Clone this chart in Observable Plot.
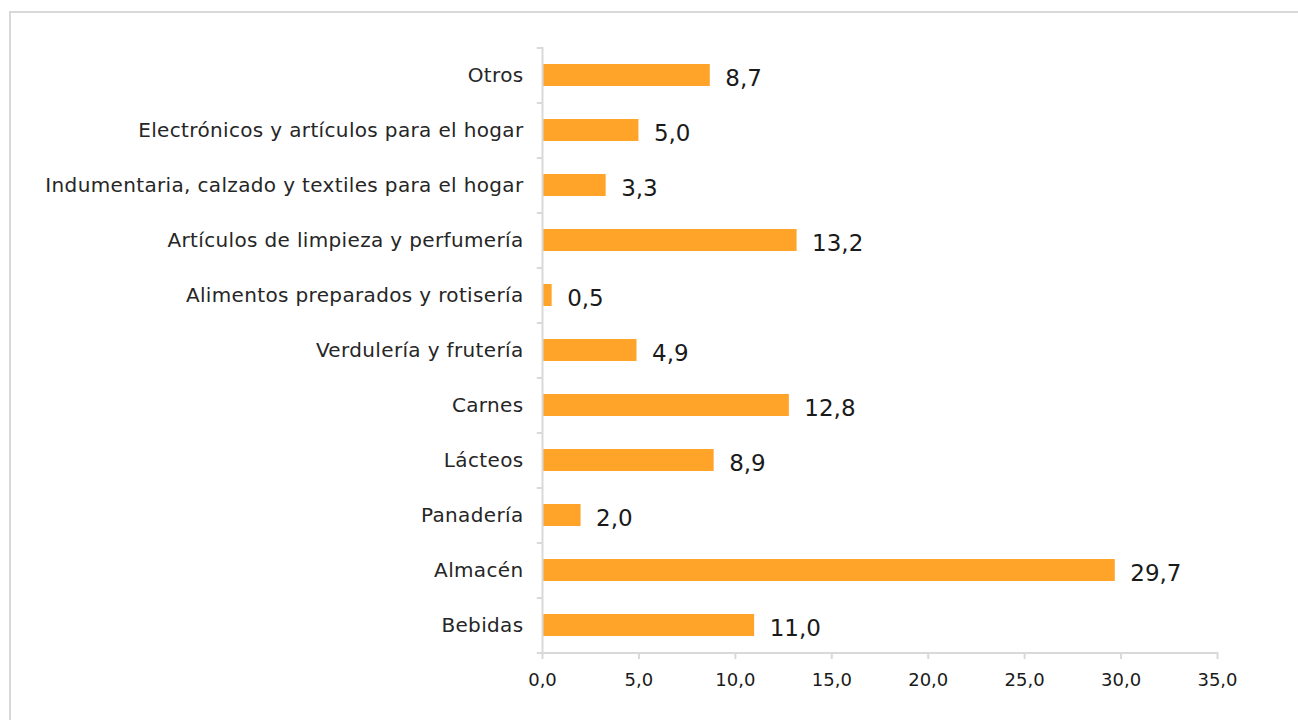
<!DOCTYPE html>
<html>
<head>
<meta charset="utf-8">
<script src="https://cdn.jsdelivr.net/npm/d3@7"></script>
<script src="https://cdn.jsdelivr.net/npm/@observablehq/plot@0.6"></script>
<style>
  html, body { margin: 0; padding: 0; background: #fff; overflow: hidden; }
  #wrap { position: relative; width: 1298px; height: 720px; }
  #frame { position: absolute; left: 9px; top: 11px; width: 1400px; height: 800px; border: 2px solid #d9d9d9; box-sizing: border-box; }
  #chart { position: absolute; left: 0; top: 0; }
  #chart g[aria-label="y-axis tick label"] text { letter-spacing: 0.35px; }
</style>
</head>
<body>
<div id="wrap"><div id="frame"></div><div id="chart"></div></div>
<script>
const categories = [
  "Otros",
  "Electrónicos y artículos para el hogar",
  "Indumentaria, calzado y textiles para el hogar",
  "Artículos de limpieza y perfumería",
  "Alimentos preparados y rotisería",
  "Verdulería y frutería",
  "Carnes",
  "Lácteos",
  "Panadería",
  "Almacén",
  "Bebidas"
];
const values = [8.7, 5.0, 3.3, 13.2, 0.5, 4.9, 12.8, 8.9, 2.0, 29.7, 11.0];
const xTicks = [0, 5, 10, 15, 20, 25, 30, 35];

const data = categories.map((c, i) => ({category: c, value: values[i]}));
const fmt = v => v.toFixed(1).replace(".", ",");
const font = "'DejaVu Sans', sans-serif";
const axisColor = "#d9d9d9";
const band = (652 - 47) / categories.length;

const chart = Plot.plot({
  width: 1298,
  height: 720,
  marginLeft: 542,
  marginRight: 81,
  marginTop: 47,
  marginBottom: 68,
  style: {fontFamily: font, color: "#262626", background: "transparent", overflow: "visible"},
  x: {domain: [0, 35], ticks: xTicks},
  y: {domain: categories, paddingInner: 0.6, paddingOuter: 0.3},
  marks: [
    Plot.barX(data, {x: "value", y: "category", fill: "#FFA329"}),
    Plot.text(data, {x: "value", y: "category", text: d => fmt(d.value), textAnchor: "start", dx: 15, dy: 3, fontSize: 23, fill: "#1a1a1a"}),
    Plot.ruleX([0], {stroke: axisColor, strokeWidth: 2}),
    Plot.ruleY(categories, {y: d => d, x1: 0, x2: -0.27, dy: -band / 2, stroke: axisColor, strokeWidth: 2}),
    Plot.ruleY([categories[categories.length - 1]], {y: d => d, x1: 0, x2: -0.27, dy: band / 2, stroke: axisColor, strokeWidth: 2}),
    Plot.axisX({ticks: xTicks, tickFormat: fmt, tickSize: 7, tickPadding: 14, fontSize: 18, stroke: axisColor, strokeWidth: 2, fill: "#1a1a1a", label: null}),
    Plot.ruleY([categories[categories.length - 1]], {y: d => d, x1: 0, x2: 35, dy: band / 2, stroke: axisColor, strokeWidth: 2}),
    Plot.axisY({tickSize: 0, tickPadding: 19, fontSize: 20, fill: "#262626", label: null})
  ]
});
document.getElementById("chart").appendChild(chart);
</script>
</body>
</html>
